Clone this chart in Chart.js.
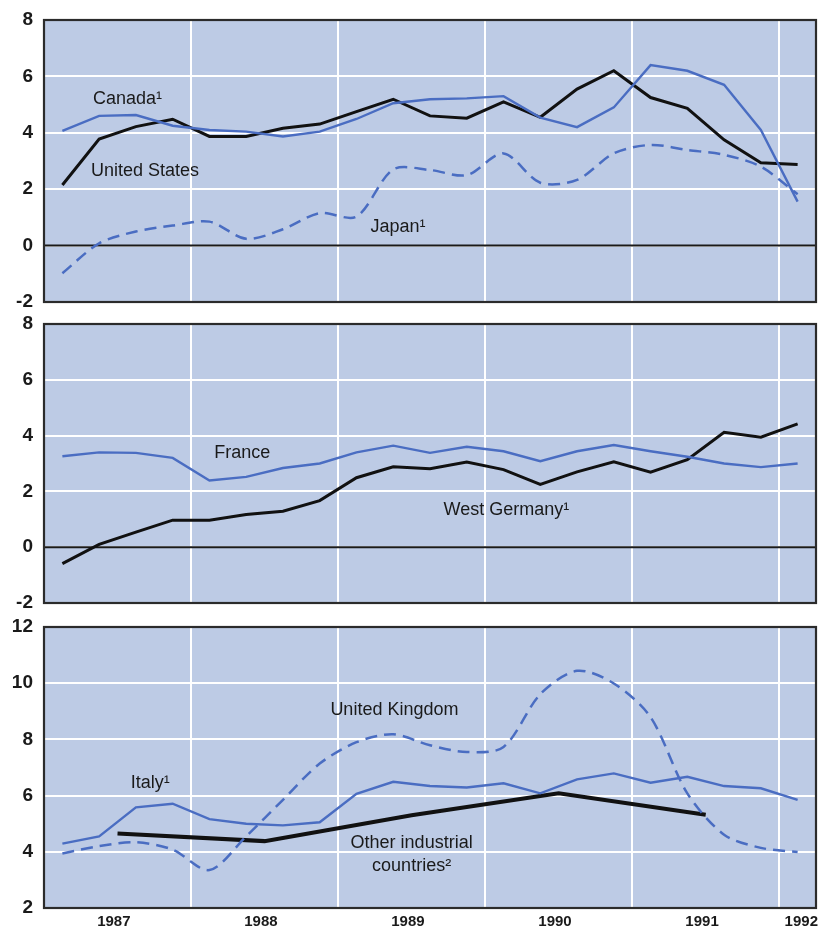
<!DOCTYPE html>
<html>
<head>
<meta charset="utf-8">
<script src="https://cdn.jsdelivr.net/npm/chart.js@4.4.0/dist/chart.umd.min.js"></script>
<style>
  html, body { margin: 0; padding: 0; background: #ffffff; }
  body { width: 820px; height: 930px; position: relative; overflow: hidden; }
  canvas { position: absolute; left: 0; }
</style>
</head>
<body>
<canvas id="c1" width="820" height="313" style="top:0px"></canvas>
<canvas id="c2" width="820" height="302" style="top:313px"></canvas>
<canvas id="c3" width="820" height="315" style="top:615px"></canvas>
<script>
// ---------- DATA (quarterly, 1987Q1 .. 1992Q1) ----------
const quarters = ['1987Q1','1987Q2','1987Q3','1987Q4','1988Q1','1988Q2','1988Q3','1988Q4',
                  '1989Q1','1989Q2','1989Q3','1989Q4','1990Q1','1990Q2','1990Q3','1990Q4',
                  '1991Q1','1991Q2','1991Q3','1991Q4','1992Q1'];
const years = ['1987','1988','1989','1990','1991','1992'];

const canada  = [4.07,4.60,4.63,4.25,4.10,4.04,3.87,4.04,4.49,5.05,5.19,5.22,5.30,4.54,4.20,4.90,6.40,6.20,5.70,4.10,1.56];
const unitedStates = [2.15,3.78,4.22,4.48,3.87,3.87,4.16,4.31,4.75,5.19,4.60,4.52,5.10,4.55,5.55,6.20,5.25,4.87,3.75,2.94,2.88];
const japan   = [-0.98,0.08,0.50,0.71,0.85,0.24,0.58,1.15,1.03,2.70,2.68,2.50,3.27,2.23,2.33,3.27,3.57,3.39,3.22,2.80,1.82];

const france  = [3.26,3.40,3.38,3.20,2.39,2.52,2.84,3.00,3.40,3.64,3.38,3.60,3.44,3.08,3.44,3.66,3.44,3.24,3.00,2.87,3.00];
const westGermany = [-0.59,0.10,0.54,0.97,0.97,1.17,1.29,1.67,2.49,2.88,2.81,3.05,2.78,2.25,2.70,3.06,2.69,3.14,4.12,3.94,4.42];

const italy   = [4.29,4.55,5.58,5.71,5.16,5.00,4.94,5.05,6.06,6.49,6.34,6.29,6.44,6.08,6.58,6.79,6.46,6.67,6.34,6.26,5.85];
const unitedKingdom = [3.94,4.20,4.34,4.08,3.35,4.55,5.85,7.14,7.90,8.18,7.79,7.55,7.73,9.61,10.44,9.99,8.79,6.08,4.61,4.14,3.99];
// annual values 1987..1991
const otherYears = ['1987','1988','1989','1990','1991'];
const otherIndustrial = [4.65,4.38,5.30,6.08,5.32];

// ---------- helpers ----------
const BLUE = '#4a6dc2';
const BLACK = '#111111';
const BG = '#bdcbe5';
const FONT = '"Liberation Sans", Arial, Helvetica, sans-serif';

// quarter i sits in the middle of slot [i, i+1]
const qPts = arr => arr.map((v, i) => ({ x: i + 0.5, y: v }));
// a year's midpoint
const yearMid = y => (parseInt(y, 10) - 1987) * 4 + 2;
const aPts = (labels, arr) => arr.map((v, i) => ({ x: yearMid(labels[i]), y: v }));

const gridTicks = years.slice(1).map(y => yearMid(y) - 2);            // year boundaries
const labelTicks = years.map(y => Math.min(yearMid(y) - 0.1, quarters.length - 0.4));
const labelMap = {};
labelTicks.forEach((v, i) => { labelMap[v.toFixed(3)] = years[i]; });

const bgPlugin = {
  id: 'panelDeco',
  beforeDraw(chart) {
    const a = chart.chartArea, c = chart.ctx;
    c.save(); c.fillStyle = BG; c.fillRect(a.left, a.top, a.right - a.left, a.bottom - a.top); c.restore();
  },
  beforeDatasetsDraw(chart) {
    const a = chart.chartArea, c = chart.ctx, ys = chart.scales.y;
    c.save();
    if (ys.min < 0 && ys.max > 0) {
      const y0 = ys.getPixelForValue(0);
      c.strokeStyle = '#1a1a1a'; c.lineWidth = 2;
      c.beginPath(); c.moveTo(a.left, y0); c.lineTo(a.right, y0); c.stroke();
    }
    c.restore();
  },
  afterDatasetsDraw(chart) {
    const a = chart.chartArea, c = chart.ctx;
    c.save();
    c.strokeStyle = '#2b2b2b'; c.lineWidth = 2.2;
    c.strokeRect(a.left, a.top, a.right - a.left, a.bottom - a.top);
    const notes = chart.options.plugins.panelDeco.notes || [];
    c.fillStyle = '#1a1a1a';
    c.font = '18px ' + FONT;
    c.textBaseline = 'middle';
    notes.forEach(n => {
      c.textAlign = n.align || 'left';
      c.fillText(n.text, chart.scales.x.getPixelForValue(n.x), chart.scales.y.getPixelForValue(n.y));
    });
    c.restore();
  }
};

function makePanel(id, datasets, yMin, yMax, showX, pad, notes) {
  return new Chart(document.getElementById(id), {
    type: 'line',
    data: { datasets },
    plugins: [bgPlugin],
    options: {
      responsive: false,
      animation: false,
      layout: { padding: pad },
      elements: { point: { radius: 0 } },
      plugins: {
        legend: { display: false },
        tooltip: { enabled: false },
        panelDeco: { notes }
      },
      scales: {
        x: {
          type: 'linear', min: 0, max: quarters.length,
          afterBuildTicks: s => {
            const vals = gridTicks.concat(showX ? labelTicks : []).sort((a, b) => a - b);
            s.ticks = vals.map(v => ({ value: v }));
          },
          afterFit: s => { s.height = showX ? 22 : 0; s.paddingLeft = 0; s.paddingRight = 0; },
          border: { display: false },
          grid: {
            drawTicks: false,
            lineWidth: 2,
            color: ctx => (ctx.tick && gridTicks.includes(ctx.tick.value)) ? '#ffffff' : 'rgba(0,0,0,0)'
          },
          ticks: {
            display: showX,
            autoSkip: false, maxRotation: 0, padding: 5,
            color: '#1a1a1a',
            font: { family: FONT, size: 15, weight: 'bold' },
            callback: v => labelMap[Number(v).toFixed(3)] || ''
          }
        },
        y: {
          min: yMin, max: yMax,
          afterFit: s => { s.width = 44; s.paddingTop = 0; s.paddingBottom = 0; },
          border: { display: false },
          grid: { drawTicks: false, color: '#ffffff', lineWidth: 2 },
          ticks: {
            stepSize: 2, padding: 11, color: '#1a1a1a',
            font: { family: FONT, size: 19, weight: 'bold' }
          }
        }
      }
    }
  });
}

const solid = (label, arr, color, w) => ({ label, data: qPts(arr), borderColor: color, borderWidth: w, tension: 0, fill: false });
const dashed = (label, arr, color, w) => ({ label, data: qPts(arr), borderColor: color, borderWidth: w, borderDash: [12, 7], tension: 0.3, fill: false });

makePanel('c1', [
  solid('Canada', canada, BLUE, 2.4),
  dashed('Japan', japan, BLUE, 2.5),
  solid('United States', unitedStates, BLACK, 3)
], -2, 8, false, { top: 20, bottom: 11, left: 0, right: 4 }, [
  { text: 'Canada¹', x: 1.33, y: 5.2 },
  { text: 'United States', x: 1.28, y: 2.66 },
  { text: 'Japan¹', x: 8.88, y: 0.67 }
]);

makePanel('c2', [
  solid('France', france, BLUE, 2.4),
  solid('West Germany', westGermany, BLACK, 3)
], -2, 8, false, { top: 11, bottom: 12, left: 0, right: 4 }, [
  { text: 'France', x: 4.63, y: 3.38 },
  { text: 'West Germany¹', x: 10.87, y: 1.35 }
]);

makePanel('c3', [
  solid('Italy', italy, BLUE, 2.4),
  dashed('United Kingdom', unitedKingdom, BLUE, 2.5),
  { label: 'Other industrial countries', data: aPts(otherYears, otherIndustrial), borderColor: BLACK, borderWidth: 4, tension: 0, fill: false }
], 2, 12, true, { top: 12, bottom: 0, left: 0, right: 4 }, [
  { text: 'Italy¹', x: 2.36, y: 6.45 },
  { text: 'United Kingdom', x: 7.79, y: 9.03 },
  { text: 'Other industrial', x: 10.0, y: 4.32, align: 'center' },
  { text: 'countries²', x: 10.0, y: 3.49, align: 'center' }
]);
</script>
</body>
</html>
